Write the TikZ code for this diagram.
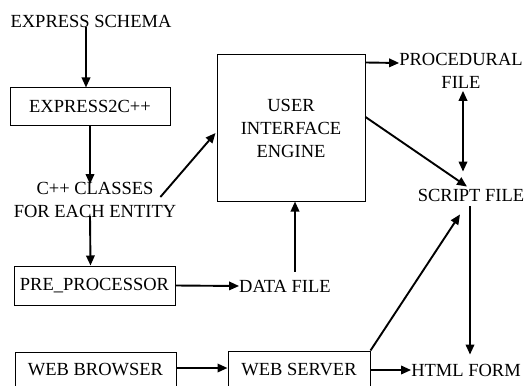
\documentclass[tikz,border=0pt]{standalone}
\usepackage{fontspec}
\setmainfont{Liberation Serif}
\usetikzlibrary{arrows.meta}
\begin{document}
\begin{tikzpicture}[x=1pt,y=-1pt,
  lbl/.style={inner sep=0pt,align=center,font=\fontsize{18.5}{23}\selectfont},
  blk/.style={lbl,draw,line width=1pt},
  arr/.style={line width=1.9pt,-{Triangle[length=10pt,width=8.5pt]}},
  darr/.style={line width=1.9pt,{Triangle[length=10pt,width=8.5pt]}-{Triangle[length=10pt,width=8.5pt]}}]
\useasboundingbox (0,0) rectangle (526,385);

% left column
\node[lbl] (schema) at (91,21) {EXPRESS SCHEMA};
\node[blk,minimum width=160pt,minimum height=37pt] (e2c) at (90,106.5) {EXPRESS2C++};
\node[lbl] (classes) at (95,200) {C++ CLASSES\\FOR EACH ENTITY};
\node[blk,minimum width=161pt,minimum height=39pt] (pre) at (94.5,285.5) {PRE\_PROCESSOR};
\node[blk,minimum width=161pt,minimum height=36pt] (browser) at (95.5,370) {WEB BROWSER};

% middle column
\node[blk,minimum width=148pt,minimum height=146pt] (ui) at (291,128) {USER\\INTERFACE\\ENGINE};
\node[lbl] (data) at (285,286) {DATA FILE};
\node[blk,minimum width=142pt,minimum height=38pt] (server) at (299,370) {WEB SERVER};

% right column
\node[lbl] (proc) at (461,71) {PROCEDURAL\\FILE};
\node[lbl] (script) at (471,195) {SCRIPT FILE};
\node[lbl] (html) at (466,370) {HTML FORM};

% connectors (shifts are in page units: positive y is upward)
\draw[arr] ([xshift=-5pt]schema.south) -- ([xshift=-4pt]e2c.north);
\draw[arr] (e2c.south) -- ([xshift=-5pt,yshift=-2pt]classes.north);
\draw[arr] ([xshift=-5pt,yshift=2pt]classes.south) -- ([xshift=-4pt]pre.north);
\draw[arr] ([xshift=-16pt,yshift=3pt]classes.east) -- ([yshift=-5pt,xshift=-1pt]ui.west);
\draw[arr] (pre.east) -- (data.west);
\draw[arr] ([xshift=10pt,yshift=8pt]data.north) -- ([xshift=4pt]ui.south);
\draw[arr] ([yshift=-8pt]ui.north east) -- ([yshift=8pt]proc.west);
\draw[darr] ([xshift=2pt,yshift=-2pt]proc.south) -- ([xshift=-8pt,yshift=17pt]script.north);
\draw[arr] ([yshift=11pt]ui.east) -- ([xshift=-4pt,yshift=2pt]script.north);
\draw[arr] ([xshift=-1pt,yshift=-5pt]script.south) -- ([xshift=4pt,yshift=9pt]html.north);
\draw[arr] ([yshift=2pt]browser.east) -- ([yshift=2pt]server.west);
\draw[arr] (server.east) -- (html.west);
\draw[arr] (server.north east) -- ([xshift=-11pt,yshift=-13pt]script.south);
\end{tikzpicture}
\end{document}
